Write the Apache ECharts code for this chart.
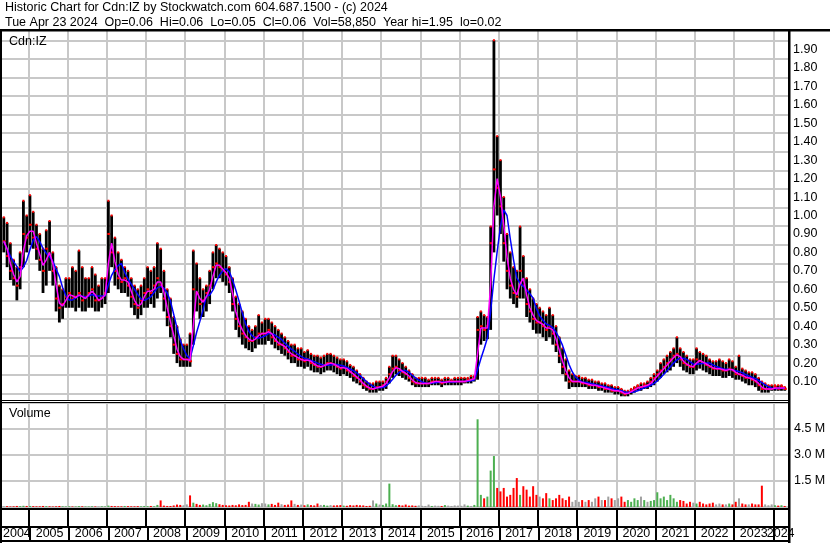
<!DOCTYPE html>
<html>
<head>
<meta charset="utf-8">
<title>Cdn:IZ historic chart</title>
<script src="https://cdn.jsdelivr.net/npm/echarts@6/dist/echarts.min.js"></script>
<style>
  html, body { margin: 0; padding: 0; background: #fff; }
  #main { width: 830px; height: 543px; }
</style>
</head>
<body>
<div id="main"></div>
<script>
// monthly bars, first month = May 2004, last = Apr 2024
var startYear = 2004;
var startMonth = 4; // May (0 based)

var priceHigh = [
  // 2004 (May-Dec)
  0.99, 0.96, 0.85, 0.76, 0.72, 0.80, 1.08, 1.00,
  // 2005
  1.11, 1.02, 0.95, 0.90, 0.82, 0.92, 0.97, 0.80, 0.72, 0.62, 0.60, 0.66,
  // 2006
  0.66, 0.72, 0.70, 0.81, 0.72, 0.66, 0.66, 0.72, 0.68, 0.62, 0.66, 0.66,
  // 2007
  1.08, 1.00, 0.88, 0.80, 0.76, 0.72, 0.70, 0.66, 0.62, 0.60, 0.62, 0.66,
  // 2008
  0.72, 0.70, 0.72, 0.85, 0.82, 0.70, 0.60, 0.55, 0.45, 0.40, 0.33, 0.30,
  // 2009
  0.30, 0.36, 0.81, 0.74, 0.66, 0.60, 0.62, 0.70, 0.80, 0.84, 0.82, 0.80,
  // 2010
  0.78, 0.72, 0.66, 0.56, 0.52, 0.48, 0.44, 0.40, 0.38, 0.40, 0.46, 0.42,
  // 2011
  0.44, 0.44, 0.42, 0.40, 0.38, 0.36, 0.34, 0.32, 0.30, 0.30, 0.28, 0.28,
  // 2012
  0.26, 0.27, 0.25, 0.24, 0.24, 0.23, 0.24, 0.25, 0.25, 0.24, 0.23, 0.22,
  // 2013
  0.22, 0.21, 0.19, 0.18, 0.16, 0.14, 0.12, 0.10, 0.09, 0.09, 0.10, 0.10,
  // 2014
  0.10, 0.12, 0.18, 0.24, 0.24, 0.22, 0.20, 0.18, 0.16, 0.14, 0.12, 0.12,
  // 2015
  0.12, 0.12, 0.11, 0.12, 0.12, 0.12, 0.11, 0.12, 0.12, 0.11, 0.12, 0.12,
  // 2016
  0.12, 0.12, 0.12, 0.13, 0.13, 0.45, 0.48, 0.46, 0.45, 0.94, 1.95, 1.43,
  // 2017
  1.30, 1.10, 0.90, 0.80, 0.72, 0.70, 0.94, 0.78, 0.66, 0.60, 0.55, 0.52,
  // 2018
  0.50, 0.48, 0.46, 0.50, 0.46, 0.40, 0.34, 0.28, 0.22, 0.16, 0.14, 0.13,
  // 2019
  0.13, 0.12, 0.12, 0.11, 0.11, 0.10, 0.10, 0.09, 0.09, 0.08, 0.08, 0.07,
  // 2020
  0.07, 0.06, 0.05, 0.05, 0.06, 0.07, 0.08, 0.09, 0.09, 0.10, 0.12, 0.14,
  // 2021
  0.16, 0.20, 0.22, 0.24, 0.26, 0.28, 0.34, 0.28, 0.26, 0.24, 0.22, 0.22,
  // 2022
  0.28, 0.26, 0.25, 0.24, 0.22, 0.21, 0.21, 0.22, 0.21, 0.20, 0.22, 0.21,
  // 2023
  0.18, 0.24, 0.17, 0.16, 0.15, 0.15, 0.14, 0.12, 0.10, 0.09, 0.08, 0.08,
  // 2024 (Jan-Apr)
  0.08, 0.08, 0.08, 0.07
];

var priceLow = [
  0.80, 0.72, 0.65, 0.62, 0.54, 0.60, 0.72, 0.80,
  0.84, 0.82, 0.76, 0.70, 0.58, 0.62, 0.70, 0.62, 0.48, 0.42, 0.44, 0.50,
  0.50, 0.50, 0.48, 0.50, 0.48, 0.48, 0.50, 0.50, 0.48, 0.48, 0.50, 0.52,
  0.58, 0.72, 0.62, 0.60, 0.58, 0.58, 0.56, 0.50, 0.46, 0.44, 0.46, 0.50,
  0.50, 0.52, 0.50, 0.55, 0.58, 0.48, 0.40, 0.34, 0.25, 0.20, 0.18, 0.18,
  0.18, 0.18, 0.30, 0.48, 0.44, 0.45, 0.48, 0.52, 0.60, 0.66, 0.66, 0.64,
  0.62, 0.58, 0.48, 0.38, 0.34, 0.30, 0.28, 0.27, 0.26, 0.28, 0.30, 0.30,
  0.30, 0.32, 0.30, 0.28, 0.27, 0.25, 0.24, 0.22, 0.20, 0.20, 0.18, 0.18,
  0.17, 0.18, 0.16, 0.15, 0.15, 0.14, 0.15, 0.16, 0.16, 0.15, 0.14, 0.13,
  0.14, 0.13, 0.12, 0.10, 0.09, 0.08, 0.06, 0.05, 0.04, 0.04, 0.04, 0.05,
  0.05, 0.06, 0.09, 0.12, 0.14, 0.13, 0.12, 0.11, 0.10, 0.08, 0.07, 0.07,
  0.07, 0.07, 0.07, 0.08, 0.08, 0.08, 0.07, 0.08, 0.08, 0.08, 0.08, 0.08,
  0.08, 0.09, 0.09, 0.09, 0.10, 0.11, 0.30, 0.32, 0.33, 0.38, 0.80, 1.00,
  0.90, 0.75, 0.60, 0.55, 0.52, 0.50, 0.55, 0.55, 0.45, 0.42, 0.38, 0.36,
  0.36, 0.34, 0.32, 0.34, 0.30, 0.26, 0.20, 0.14, 0.10, 0.06, 0.07, 0.07,
  0.07, 0.07, 0.07, 0.06, 0.06, 0.06, 0.05, 0.05, 0.04, 0.04, 0.04, 0.03,
  0.03, 0.02, 0.02, 0.02, 0.03, 0.04, 0.05, 0.05, 0.06, 0.06, 0.07, 0.08,
  0.10, 0.12, 0.14, 0.15, 0.16, 0.18, 0.20, 0.18, 0.16, 0.15, 0.14, 0.14,
  0.16, 0.17, 0.16, 0.15, 0.14, 0.13, 0.13, 0.13, 0.12, 0.12, 0.13, 0.12,
  0.11, 0.11, 0.10, 0.09, 0.08, 0.08, 0.07, 0.05, 0.04, 0.04, 0.04, 0.05,
  0.05, 0.05, 0.05, 0.05
];

var priceClose = [
  0.86, 0.78, 0.70, 0.66, 0.62, 0.72, 0.90, 0.88,
  0.95, 0.88, 0.82, 0.76, 0.70, 0.82, 0.78, 0.70, 0.55, 0.50, 0.52, 0.56,
  0.58, 0.55, 0.56, 0.58, 0.54, 0.56, 0.58, 0.60, 0.54, 0.54, 0.56, 0.58,
  0.90, 0.80, 0.70, 0.66, 0.64, 0.66, 0.62, 0.56, 0.52, 0.50, 0.54, 0.58,
  0.60, 0.58, 0.62, 0.66, 0.62, 0.55, 0.45, 0.40, 0.30, 0.25, 0.22, 0.22,
  0.22, 0.21, 0.60, 0.58, 0.52, 0.54, 0.58, 0.62, 0.72, 0.74, 0.72, 0.70,
  0.68, 0.64, 0.52, 0.44, 0.40, 0.36, 0.34, 0.32, 0.32, 0.34, 0.36, 0.36,
  0.36, 0.38, 0.34, 0.32, 0.30, 0.30, 0.28, 0.26, 0.24, 0.24, 0.22, 0.22,
  0.21, 0.22, 0.20, 0.19, 0.18, 0.18, 0.19, 0.20, 0.20, 0.19, 0.18, 0.17,
  0.18, 0.16, 0.15, 0.13, 0.12, 0.10, 0.08, 0.07, 0.06, 0.06, 0.07, 0.07,
  0.08, 0.10, 0.14, 0.17, 0.18, 0.16, 0.15, 0.14, 0.12, 0.10, 0.09, 0.09,
  0.09, 0.09, 0.09, 0.10, 0.10, 0.10, 0.09, 0.10, 0.10, 0.10, 0.10, 0.10,
  0.10, 0.10, 0.11, 0.11, 0.12, 0.38, 0.40, 0.38, 0.40, 0.85, 1.25, 1.15,
  1.05, 0.85, 0.70, 0.62, 0.58, 0.56, 0.70, 0.62, 0.52, 0.48, 0.44, 0.42,
  0.42, 0.40, 0.38, 0.40, 0.36, 0.30, 0.24, 0.18, 0.14, 0.10, 0.10, 0.10,
  0.10, 0.09, 0.09, 0.08, 0.08, 0.08, 0.07, 0.07, 0.06, 0.06, 0.05, 0.05,
  0.05, 0.04, 0.03, 0.04, 0.05, 0.06, 0.07, 0.07, 0.08, 0.08, 0.10, 0.12,
  0.14, 0.16, 0.18, 0.20, 0.22, 0.24, 0.25, 0.22, 0.20, 0.19, 0.18, 0.18,
  0.22, 0.21, 0.20, 0.19, 0.18, 0.17, 0.17, 0.17, 0.16, 0.16, 0.17, 0.16,
  0.14, 0.14, 0.13, 0.12, 0.12, 0.11, 0.10, 0.08, 0.06, 0.06, 0.06, 0.06,
  0.07, 0.06, 0.07, 0.06
];

// volume, thousands of shares
var volume = [
  40, 50, 30, 40, 60, 50, 70, 60,
  60, 50, 40, 40, 60, 50, 40, 30, 40, 60, 40, 30,
  40, 30, 30, 50, 40, 30, 30, 40, 30, 30, 40, 30,
  80, 60, 50, 40, 40, 60, 50, 40, 40, 50, 40, 60,
  50, 60, 40, 120, 380, 80, 60, 60, 90, 140, 120, 100,
  150, 670, 250, 180, 120, 140, 100, 180, 280, 220, 160, 120,
  100, 90, 120, 100, 150, 110, 120, 300, 200, 180, 140, 220,
  200, 150, 180, 120, 250, 160, 120, 140, 380, 180, 120, 140,
  100, 150, 110, 90, 200, 120, 120, 80, 110, 90, 100, 110,
  80, 70, 110, 90, 120, 100, 90, 60, 70, 380, 200, 140,
  120, 200, 1350, 160, 100, 120, 90, 140, 80, 90, 70, 90,
  70, 60, 140, 60, 80, 70, 60, 110, 80, 60, 90, 80,
  70, 150, 80, 60, 120, 5060, 700, 500, 600, 2100, 2940, 1100,
  900, 1100, 600, 700, 1100, 1670, 700, 1200, 1000, 600, 1200, 700,
  600, 500, 800, 500, 400, 500, 700, 500, 400, 600, 300, 400,
  300, 400, 300, 400, 300, 500, 600, 400, 400, 600, 500, 400,
  500, 600, 300, 400, 300, 500, 400, 600, 400, 300, 350, 400,
  850, 500, 600, 400, 700, 500, 300, 400, 350, 200, 300, 250,
  200, 300, 200, 150, 200, 250, 150, 200, 150, 150, 200, 150,
  300, 500, 200, 150, 150, 200, 150, 150, 1230, 150, 100, 150,
  100, 80, 100, 60
];

var yearLabels = ['2004', '2005', '2006', '2007', '2008', '2009', '2010', '2011', '2012', '2013',
  '2014', '2015', '2016', '2017', '2018', '2019', '2020', '2021', '2022', '2023', '2024'];
var priceLabels = ['0.10', '0.20', '0.30', '0.40', '0.50', '0.60', '0.70', '0.80', '0.90', '1.00',
  '1.10', '1.20', '1.30', '1.40', '1.50', '1.60', '1.70', '1.80', '1.90'];
var volumeLabels = ['1.5 M', '3.0 M', '4.5 M'];

var xMin = 2004.329, xMax = 2024.375;
var FONT = '"Liberation Sans", Arial, sans-serif';
var FS = 12.5;

// build series data
var bars = [], volUp = [], volDown = [], volFlat = [], closes = [];
for (var i = 0; i < priceClose.length; i++) {
  var x = startYear + (startMonth + i + 0.5) / 12;
  bars.push([x, priceHigh[i], priceLow[i], priceClose[i]]);
  closes.push([x, priceClose[i]]);
  var v = volume[i] * 1000;
  var prev = i > 0 ? priceClose[i - 1] : priceClose[i];
  if (priceClose[i] > prev) volUp.push([x, v]);
  else if (priceClose[i] < prev) volDown.push([x, v]);
  else volFlat.push([x, v]);
}

// moving averages of the monthly closes
function movingAvg(n) {
  var out = [];
  for (var i = 0; i < closes.length; i++) {
    var s = 0, c = 0;
    for (var j = Math.max(0, i - n + 1); j <= i; j++) { s += closes[j][1]; c++; }
    out.push([closes[i][0], +(s / c).toFixed(4)]);
  }
  return out;
}

var yearBounds = [];
for (var y = 2005; y <= 2024; y++) yearBounds.push(y);
var yearMids = yearLabels.map(function (t) {
  var y = +t;
  var a = Math.max(y, xMin), b = Math.min(y + 1, xMax);
  return (a + b) / 2;
});
// horizontal grid lines sit a little below each price label
var priceGrid = [];
for (var k = 0; k < 20; k++) priceGrid.push(+(0.036 + k * 0.1007).toFixed(4));

function yearAxis(gridIndex, lineColor, lineWidth, labelValues) {
  return {
    type: 'value', gridIndex: gridIndex, min: xMin, max: xMax,
    axisLine: { show: false },
    axisTick: { show: false, customValues: yearBounds },
    splitLine: { show: !!lineColor, lineStyle: { color: lineColor || '#000', width: lineWidth } },
    axisLabel: labelValues ? {
      show: true, customValues: labelValues, margin: -6, verticalAlign: 'middle',
      showMinLabel: true, showMaxLabel: true,
      color: '#000', fontSize: FS, fontFamily: FONT,
      formatter: function (v) { return String(Math.floor(v)); }
    } : { show: false }
  };
}

function txt(s, left, top) {
  return { text: s, left: left, top: top, padding: 0,
    textStyle: { fontSize: FS, fontWeight: 'normal', color: '#000', fontFamily: FONT } };
}

var chart = echarts.init(document.getElementById('main'), null, { renderer: 'canvas' });
chart.setOption({
  animation: false,
  backgroundColor: '#fff',
  title: [
    txt('Historic Chart for Cdn:IZ by Stockwatch.com 604.687.1500 - (c) 2024', 5, 1),
    txt('Tue Apr 23 2024  Op=0.06  Hi=0.06  Lo=0.05  Cl=0.06  Vol=58,850  Year hi=1.95  lo=0.02', 5, 16),
    txt('Cdn:IZ', 9, 35),
    txt('Volume', 9, 407)
  ],
  grid: [
    { left: 2, top: 31, width: 786, height: 369 },
    { left: 2, top: 403, width: 786, height: 104 },
    { left: 2, top: 510, width: 786, height: 16 },
    { left: 2, top: 528, width: 786, height: 12 }
  ],
  xAxis: [
    yearAxis(0, '#c8c8c8', 2, null),
    yearAxis(1, '#c8c8c8', 2, null),
    yearAxis(2, '#000', 2, null),
    yearAxis(3, '#000', 2, yearMids.slice(0, yearMids.length - 1)),
    // last (partial) year label sits on its own axis so it is not dropped for touching 2023
    yearAxis(3, null, 0, yearMids.slice(yearMids.length - 1))
  ],
  yAxis: [
    {
      type: 'value', gridIndex: 0, position: 'right', min: 0, max: 2.0,
      axisLine: { show: false },
      axisTick: { show: false, customValues: priceGrid },
      splitLine: { show: true, lineStyle: { color: '#c8c8c8', width: 2 } },
      axisLabel: {
        customValues: priceLabels.map(Number), margin: 5, color: '#000', fontSize: FS, fontFamily: FONT,
        formatter: function (v) { return v.toFixed(2); }
      }
    },
    {
      type: 'value', gridIndex: 1, position: 'right', min: 0, max: 6e6, interval: 1.5e6,
      axisLine: { show: false }, axisTick: { show: false },
      splitLine: { show: true, lineStyle: { color: '#c8c8c8', width: 2 } },
      axisLabel: {
        margin: 6, color: '#000', fontSize: FS, fontFamily: FONT,
        showMinLabel: false, showMaxLabel: false,
        formatter: function (v) {
          var k = Math.round(v / 1.5e6) - 1;
          return volumeLabels[k] || '';
        }
      }
    },
    { type: 'value', gridIndex: 2, show: false, min: 0, max: 1, splitLine: { show: false } },
    { type: 'value', gridIndex: 3, show: false, min: 0, max: 1, splitLine: { show: false } }
  ],
  series: [
    {
      type: 'custom', xAxisIndex: 0, yAxisIndex: 0, data: bars, z: 2,
      encode: { x: 0, y: [1, 2, 3] },
      renderItem: function (params, api) {
        var x = api.value(0);
        var pHi = api.coord([x, api.value(1)]);
        var pLo = api.coord([x, api.value(2)]);
        var pCl = api.coord([x, api.value(3)]);
        return {
          type: 'group',
          children: [
            { type: 'line', shape: { x1: pHi[0], y1: pHi[1], x2: pLo[0], y2: pLo[1] },
              style: { stroke: '#000', lineWidth: 2.8 } },
            { type: 'rect', shape: { x: pCl[0] - 1, y: pCl[1] - 1, width: 3, height: 2 },
              style: { fill: '#ff0000' } },
            { type: 'rect', shape: { x: pHi[0] - 1, y: pHi[1] - 1, width: 2, height: 2 },
              style: { fill: '#ff0000' } }
          ]
        };
      }
    },
    {
      type: 'line', xAxisIndex: 0, yAxisIndex: 0, data: movingAvg(5), showSymbol: false, z: 3,
      lineStyle: { color: '#0000ff', width: 1.5 }
    },
    {
      type: 'line', xAxisIndex: 0, yAxisIndex: 0, data: movingAvg(2), showSymbol: false, z: 4,
      lineStyle: { color: '#ff00ff', width: 1.5 }
    },
    { type: 'bar', xAxisIndex: 1, yAxisIndex: 1, data: volUp, barWidth: 2, itemStyle: { color: '#4caf50' } },
    { type: 'bar', xAxisIndex: 1, yAxisIndex: 1, data: volDown, barWidth: 2, itemStyle: { color: '#ff0000' }, barGap: '-100%' },
    { type: 'bar', xAxisIndex: 1, yAxisIndex: 1, data: volFlat, barWidth: 2, itemStyle: { color: '#a0a0a0' }, barGap: '-100%' }
  ],
  graphic: [
    { type: 'rect', shape: { x: 0, y: 29, width: 830, height: 2.5 }, style: { fill: '#000' }, z: 100 },
    { type: 'rect', shape: { x: 0, y: 29, width: 2, height: 514 }, style: { fill: '#000' }, z: 100 },
    { type: 'rect', shape: { x: 788, y: 29, width: 2.5, height: 514 }, style: { fill: '#000' }, z: 100 },
    { type: 'rect', shape: { x: 0, y: 400, width: 790, height: 1 }, style: { fill: '#000' }, z: 100 },
    { type: 'rect', shape: { x: 0, y: 402, width: 790, height: 1 }, style: { fill: '#000' }, z: 100 },
    { type: 'rect', shape: { x: 0, y: 508, width: 790, height: 2 }, style: { fill: '#000' }, z: 100 },
    { type: 'rect', shape: { x: 0, y: 526, width: 790, height: 2 }, style: { fill: '#000' }, z: 100 },
    { type: 'rect', shape: { x: 0, y: 540, width: 790, height: 2 }, style: { fill: '#000' }, z: 100 }
  ]
});
</script>
</body>
</html>
